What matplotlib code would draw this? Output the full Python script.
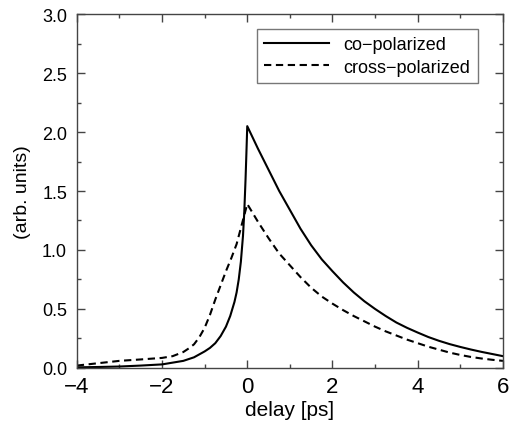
import matplotlib
matplotlib.use('Agg')
import matplotlib.pyplot as plt
from matplotlib.ticker import MultipleLocator

plt.rcParams['font.family'] = ['Liberation Sans', 'DejaVu Sans']

# values
co_x = [-4.0, -3.5, -3.0, -2.5, -2.0, -1.75, -1.5, -1.25, -1.0, -0.875, -0.75,
        -0.625, -0.5, -0.4, -0.3, -0.25, -0.2, -0.15, -0.1, -0.07, -0.04, -0.02, 0.0,
        0.25, 0.5, 0.75, 1.0, 1.25, 1.5, 1.75, 2.0, 2.25, 2.5, 2.75, 3.0, 3.25, 3.5,
        3.75, 4.0, 4.25, 4.5, 4.75, 5.0, 5.25, 5.5, 5.75, 6.0]
co_y = [0.005, 0.008, 0.012, 0.02, 0.03, 0.045, 0.06, 0.09, 0.14, 0.17, 0.21,
        0.27, 0.35, 0.44, 0.56, 0.64, 0.75, 0.90, 1.12, 1.32, 1.6, 1.82, 2.05,
        1.86, 1.68, 1.50, 1.34, 1.18, 1.04, 0.92, 0.82, 0.725, 0.64, 0.565, 0.50, 0.44,
        0.385, 0.34, 0.30, 0.262, 0.23, 0.202, 0.178, 0.156, 0.136, 0.118, 0.10]

cross_x = [-4.0, -3.5, -3.0, -2.5, -2.0, -1.75, -1.5, -1.375, -1.25, -1.125, -1.0,
           -0.875, -0.75, -0.625, -0.5, -0.375, -0.25, -0.125, 0.0, 0.25, 0.5, 0.75,
           1.0, 1.25, 1.5, 1.75, 2.0, 2.25, 2.5, 2.75, 3.0, 3.25, 3.5, 3.75, 4.0, 4.25,
           4.5, 4.75, 5.0, 5.25, 5.5, 5.75, 6.0]
cross_y = [0.02, 0.04, 0.06, 0.072, 0.085, 0.10, 0.135, 0.165, 0.20, 0.26, 0.34,
           0.45, 0.58, 0.70, 0.82, 0.93, 1.05, 1.22, 1.39, 1.24, 1.10, 0.97,
           0.87, 0.77, 0.68, 0.605, 0.545, 0.49, 0.44, 0.395, 0.35, 0.31, 0.275, 0.24,
           0.21, 0.18, 0.155, 0.13, 0.11, 0.093, 0.08, 0.069, 0.06]

fig = plt.figure(figsize=(5.19, 4.31), dpi=100)
ax = fig.add_axes([0.148, 0.144, 0.821, 0.821])

ax.plot(co_x, co_y, color='black', lw=1.5, label='co\u2212polarized')
ax.plot(cross_x, cross_y, color='black', lw=1.5, linestyle=(0, (3.5, 2.2)),
        label='cross\u2212polarized')

ax.set_xlim(-4, 6)
ax.set_ylim(0, 3)
ax.xaxis.set_minor_locator(MultipleLocator(1))
ax.yaxis.set_major_locator(MultipleLocator(0.5))
ax.yaxis.set_minor_locator(MultipleLocator(0.25))
ax.set_xticks([-4, -2, 0, 2, 4, 6])
ax.set_xticklabels(['\u22124', '\u22122', '0', '2', '4', '6'])
ax.tick_params(which='both', direction='in', top=True, right=True, color='#444444')
ax.tick_params(which='major', length=6, width=1)
ax.tick_params(which='minor', length=3, width=1)
ax.tick_params(axis='x', labelsize=16, pad=6)
ax.tick_params(axis='y', labelsize=13, pad=7)
for s in ax.spines.values():
    s.set_color('#444444')
    s.set_linewidth(1)

ax.set_xlabel('delay [ps]', fontsize=15, labelpad=2)
ax.set_ylabel('(arb. units)', fontsize=14, labelpad=8)

leg = ax.legend(loc='upper right', bbox_to_anchor=(0.941, 0.958), borderaxespad=0,
                fontsize=13, handlelength=3.6, handletextpad=0.8, fancybox=False,
                framealpha=1, labelspacing=0.3, borderpad=0.4)
leg.get_frame().set_edgecolor('#777777')
leg.get_frame().set_linewidth(1)

fig.savefig('out.png', dpi=100)
